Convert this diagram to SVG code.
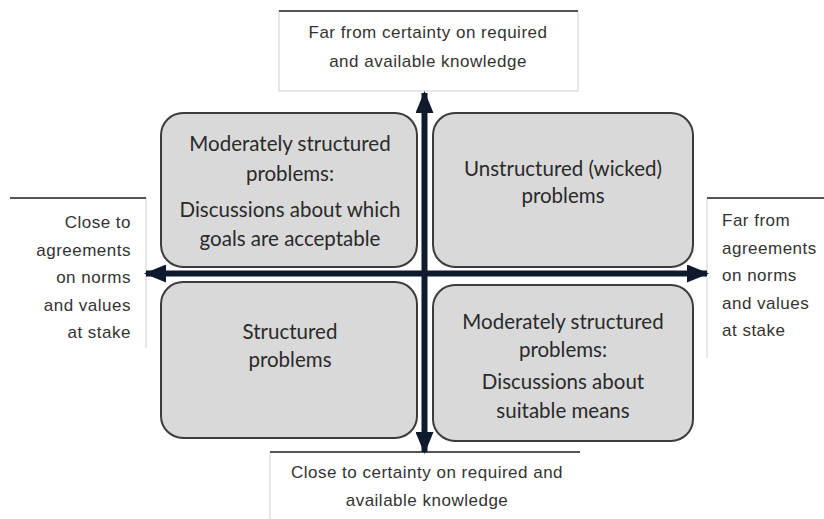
<svg xmlns="http://www.w3.org/2000/svg" width="824" height="519" viewBox="0 0 824 519">
<defs>
<style>
.q{fill:#d9d9d9;stroke:#3c3c3c;stroke-width:2}
.qt{font-family:Lato,"Open Sans",sans-serif;font-size:20.5px;fill:#2a2a2a;text-anchor:middle}
.lb{fill:#ffffff;stroke:#d0d0d0;stroke-width:1}
.bg{fill:#ffffff;stroke:none}
.side{stroke:#d0d0d0;stroke-width:1}
.top{stroke:#555555;stroke-width:2}
.lt{font-family:"Liberation Sans",Arial,sans-serif;font-size:17px;letter-spacing:0.5px;fill:#333333}
.ax{stroke:#0f1a2e;stroke-width:6;fill:none}
</style>
<marker id="ah" markerUnits="userSpaceOnUse" markerWidth="22" markerHeight="18" refX="20" refY="9" orient="auto">
<path d="M0,0 L22,9 L0,18 z" fill="#0f1a2e"/>
</marker>
</defs>
<rect width="824" height="519" fill="#ffffff"/>

<g id="label-top">
<rect class="lb" x="279" y="11" width="299" height="80"/>
<line class="top" x1="279" y1="11" x2="578" y2="11"/>
<text class="lt" x="428" y="38" text-anchor="middle">Far from certainty on required</text>
<text class="lt" x="428" y="67" text-anchor="middle">and available knowledge</text>
</g>

<g id="label-left">
<rect class="bg" x="10" y="198" width="136" height="150"/>
<line class="side" x1="146" y1="198" x2="146" y2="348"/>
<line class="top" x1="10" y1="198" x2="146" y2="198"/>
<text class="lt" x="131" y="228" text-anchor="end">Close to</text>
<text class="lt" x="131" y="256" text-anchor="end">agreements</text>
<text class="lt" x="131" y="283" text-anchor="end">on norms</text>
<text class="lt" x="131" y="311" text-anchor="end">and values</text>
<text class="lt" x="131" y="338" text-anchor="end">at stake</text>
</g>

<g id="label-right">
<rect class="bg" x="707" y="198" width="117" height="160"/>
<line class="side" x1="707" y1="198" x2="707" y2="358"/>
<line class="top" x1="707" y1="198" x2="824" y2="198"/>
<text class="lt" x="722" y="226">Far from</text>
<text class="lt" x="722" y="254">agreements</text>
<text class="lt" x="722" y="281">on norms</text>
<text class="lt" x="722" y="309">and values</text>
<text class="lt" x="722" y="336">at stake</text>
</g>

<g id="label-bottom">
<rect class="bg" x="270" y="452" width="310" height="67"/>
<line class="side" x1="270" y1="452" x2="270" y2="519"/>
<line class="top" x1="270" y1="452" x2="580" y2="452"/>
<text class="lt" x="427" y="478" text-anchor="middle">Close to certainty on required and</text>
<text class="lt" x="427" y="506" text-anchor="middle">available knowledge</text>
</g>

<g id="q-top-left">
<rect class="q" x="161" y="113" width="256" height="154" rx="22"/>
<text class="qt" x="290" y="151">Moderately structured</text>
<text class="qt" x="290" y="181">problems:</text>
<text class="qt" x="290" y="217">Discussions about which</text>
<text class="qt" x="290" y="246">goals are acceptable</text>
</g>

<g id="q-top-right">
<rect class="q" x="433" y="113" width="260" height="154" rx="22"/>
<text class="qt" x="563" y="176">Unstructured (wicked)</text>
<text class="qt" x="563" y="203">problems</text>
</g>

<g id="q-bottom-left">
<rect class="q" x="161" y="282" width="256" height="156" rx="22"/>
<text class="qt" x="290" y="339">Structured</text>
<text class="qt" x="290" y="367">problems</text>
</g>

<g id="q-bottom-right">
<rect class="q" x="433" y="285" width="260" height="156" rx="22"/>
<text class="qt" x="563" y="329">Moderately structured</text>
<text class="qt" x="563" y="357">problems:</text>
<text class="qt" x="563" y="389">Discussions about</text>
<text class="qt" x="563" y="418">suitable means</text>
</g>

<g id="connectors">
<line class="ax" x1="424.5" y1="273" x2="424.5" y2="93" marker-end="url(#ah)"/>
<line class="ax" x1="424.5" y1="273" x2="424.5" y2="452" marker-end="url(#ah)"/>
<line class="ax" x1="424.5" y1="273.5" x2="146" y2="273.5" marker-end="url(#ah)"/>
<line class="ax" x1="424.5" y1="273.5" x2="707" y2="273.5" marker-end="url(#ah)"/>
</g>
</svg>
